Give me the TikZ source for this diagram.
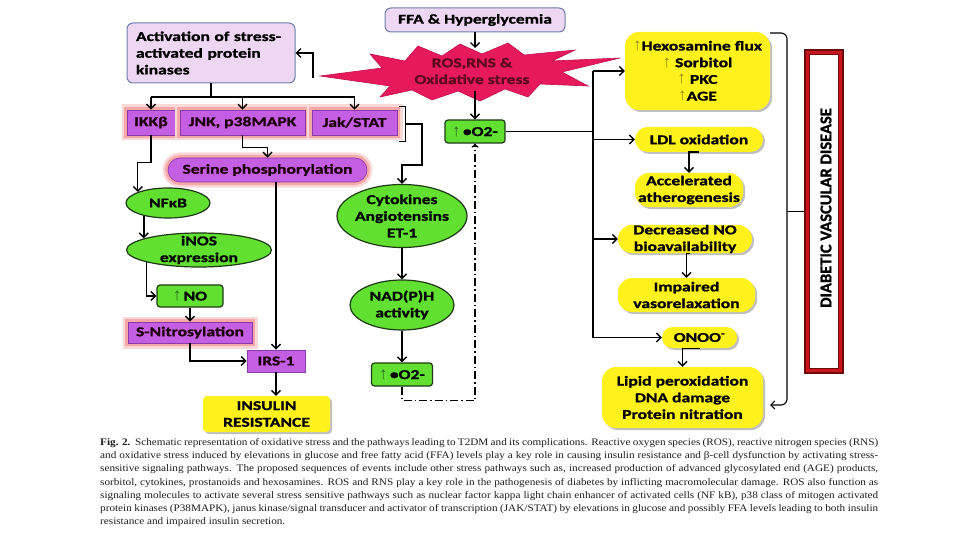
\documentclass[tikz,border=0pt]{standalone}
\usepackage{fontspec}
\setmainfont{Liberation Serif}
\newfontfamily\capfont[FakeStretch=1.12]{Liberation Serif}
\newfontfamily\dfont[FakeStretch=1.3, FakeBold=1.2]{Carlito}
\newfontfamily\dvdfont[FakeBold=1.2]{Carlito}
\newfontfamily\arrfont{Liberation Sans}
\usetikzlibrary{shapes.geometric,arrows.meta,calc,shadows}

\definecolor{lav}{HTML}{EDD7F2}
\definecolor{lavb}{HTML}{6D7DAA}
\definecolor{purp}{HTML}{C45EE2}
\definecolor{purpb}{HTML}{8A3AA8}
\definecolor{glowc}{HTML}{F6A8A8}
\definecolor{grn}{HTML}{62E032}
\definecolor{grnb}{HTML}{1E3A14}
\definecolor{yel}{HTML}{FFF21C}
\definecolor{starc}{HTML}{E6195C}
\definecolor{starb}{HTML}{C0104A}
\definecolor{startxt}{HTML}{5E0A1E}
\definecolor{dred}{HTML}{6E0C0C}
\definecolor{mred}{HTML}{C8161E}
\definecolor{upyc}{HTML}{8E8A10}
\definecolor{upgc}{HTML}{2C6A1C}
\definecolor{captxt}{HTML}{1E1E1E}

\newcommand{\uparY}{{\arrfont\mdseries\fontsize{17}{17}\selectfont\color{upyc}↑}}
\newcommand{\uparG}{{\arrfont\mdseries\fontsize{17}{17}\selectfont\color{upgc}↑}}

\begin{document}
\begin{tikzpicture}[x=1pt,y=-1pt,
  lbl/.style={font={\dfont\bfseries\fontsize{13.5}{16.7}\selectfont}, align=center, inner sep=0pt, text=black},
  lavbox/.style={lbl, rectangle, rounded corners=6pt, fill=lav, draw=lavb, line width=1pt},
  purpbox/.style={lbl, rectangle, fill=purp, draw=purpb, line width=0.6pt, text=black!85!purple},
  glowing/.style={preaction={draw=glowc!45, line width=11pt}, preaction={draw=glowc, line width=6pt}},
  grnbox/.style={lbl, rectangle, rounded corners=3pt, fill=grn, draw=grnb, line width=1.2pt},
  grnell/.style={ellipse, inner sep=0pt, fill=grn, draw=grnb, line width=1.2pt},
  yelbox/.style={lbl, rectangle, rounded corners=12pt, fill=yel,
     drop shadow={shadow xshift=2pt, shadow yshift=-2pt, opacity=0.25, fill=black}},
  conn/.style={line width=1.4pt, draw=black},
  arr/.style={conn, -{Straight Barb[length=4.5pt, width=9pt]}}
]
\useasboundingbox (0,0) rectangle (960,540);
\fill[white] (0,0) rectangle (960,540);

% starburst
\filldraw[fill=starc, draw=starb, line width=0.6pt]
 (320,76) -- (382,68) -- (370,54) -- (405,61) -- (418,46) -- (442,56) -- (460,44)
 -- (482,54) -- (508,43) -- (524,55) -- (575,50) -- (552,61) -- (620,58) -- (562,72)
 -- (588,86) -- (540,84) -- (528,97) -- (505,89) -- (480,101) -- (458,91) -- (432,100)
 -- (412,90) -- (380,97) -- (390,86) -- cycle;
\node[lbl, text=startxt] (ros) at (472,71) {ROS,RNS \&\\Oxidative stress};

% top boxes
\node[lavbox, minimum width=180pt, minimum height=24pt] (ffa) at (475,20) {FFA \& Hyperglycemia};
\node[lavbox, minimum width=168pt, minimum height=60pt, text width=150pt, align=left, inner xsep=9pt]
  (act) at (211,53) {Activation of stress-\\activated protein\\kinases};

% purple row
\node[purpbox, glowing, minimum width=48pt, minimum height=25pt] (ikk) at (151,122.5) {IKKβ};
\node[purpbox, glowing, minimum width=125pt, minimum height=25pt] (jnk) at (242.5,122.5) {JNK, p38MAPK};
\node[purpbox, glowing, minimum width=85pt, minimum height=25pt] (jak) at (354.5,122.5) {Jak/STAT};
\node[purpbox, glowing, rounded corners=12pt, minimum width=199pt, minimum height=24pt] (ser) at (267.5,170) {Serine phosphorylation};
\node[purpbox, glowing, minimum width=124pt, minimum height=21pt] (snit) at (190,332.5) {S-Nitrosylation};
\node[purpbox, minimum width=58pt, minimum height=22pt] (irs) at (276,361) {IRS-1};

% green boxes
\node[grnbox, minimum width=60pt, minimum height=23pt] (o2a) at (475,131.5) {\uparG\,•O2-};
\node[grnbox, minimum width=66pt, minimum height=22pt] (no) at (190,296) {\uparG\,NO};
\node[grnbox, minimum width=61pt, minimum height=23pt] (o2b) at (402,374.5) {\uparG\,•O2-};

% green ellipses
\node[grnell, minimum width=84pt, minimum height=30pt] (nfkb) at (168,203) {};
\node[lbl] (nfkbt) at (nfkb) {NFκB};
\node[grnell, minimum width=145pt, minimum height=34pt] (inos) at (199,250) {};
\node[lbl] (inost) at (inos) {iNOS\\expression};
\node[grnell, minimum width=130pt, minimum height=63pt] (cyt) at (402,216) {};
\node[lbl] (cytt) at (cyt) {Cytokines\\Angiotensins\\ET-1};
\node[grnell, minimum width=104pt, minimum height=50pt] (nad) at (402,305) {};
\node[lbl] (nadt) at (nad) {NAD(P)H\\activity};

% yellow boxes
\node[yelbox, rounded corners=4pt, minimum width=127pt, minimum height=36pt] (ins) at (266.5,414) {INSULIN\\RESISTANCE};
\node[yelbox, rounded corners=14pt, minimum width=145pt, minimum height=78pt] (hex) at (697.5,71)
  {\uparY Hexosamine flux\\\uparY\ Sorbitol\\\uparY\ PKC\\\uparY AGE};
\node[yelbox, rounded corners=12.5pt, minimum width=128pt, minimum height=25pt] (ldl) at (699,139.5) {LDL oxidation};
\node[yelbox, rounded corners=14pt, minimum width=108pt, minimum height=34pt] (acc) at (689,190) {Accelerated\\atherogenesis};
\node[yelbox, rounded corners=14pt, minimum width=134pt, minimum height=28pt] (dec) at (685,239) {Decreased NO\\bioavailability};
\node[yelbox, rounded corners=14pt, minimum width=137pt, minimum height=34pt] (imp) at (686.5,295) {Impaired\\vasorelaxation};
\node[yelbox, rounded corners=10.5pt, minimum width=75pt, minimum height=21pt] (onoo) at (699.5,337.5) {ONOO\textsuperscript{-}};
\node[yelbox, rounded corners=14pt, minimum width=161pt, minimum height=61pt] (lip) at (682.5,397.5)
  {Lipid peroxidation\\DNA damage\\Protein nitration};

% diabetic vascular disease
\node[draw=dred, fill=mred, line width=1.2pt, minimum width=38pt, minimum height=323pt, inner sep=0pt] (dvd) at (824,211.5) {};
\filldraw[fill=white, draw=dred, line width=0.8pt] ($(dvd.north west)+(5,5)$) rectangle ($(dvd.south east)+(-5,-5)$);
\node[rotate=90, inner sep=0pt, font={\dvdfont\bfseries\fontsize{16.5}{16.5}\selectfont}] (dvdt) at (826,208) {DIABETIC VASCULAR DISEASE};

% connectors: top
\coordinate (starTop) at (475,48);
\coordinate (starBot) at (475,91);
\coordinate (starL) at (313,78);
\draw[arr] (ffa.south) -- (starTop);
\draw[arr] (starBot) -- (o2a.north);
\draw[arr] (starL) |- (act.east);

\coordinate (rowbus) at (211,97);
\draw[conn] (act.south) -- (rowbus);
\draw[conn] (ikk.north |- rowbus) -- (jak.north |- rowbus);
\draw[arr] (ikk.north |- rowbus) -- (ikk.north);
\draw[arr] (jnk.north |- rowbus) -- (jnk.north);
\draw[arr] (jak.north |- rowbus) -- (jak.north);

% bracket after Jak/STAT
\draw[line width=1pt] (399,107) -- (405,107) -- (405,142) -- (399,142);
\coordinate (brk) at (405,124);
\draw[arr] (brk) -| ++(17,41) -| (cyt.north);

% left column
\draw[arr] (jnk.south) -- ++(0,12) -| (ser.north);
\draw[arr] (ikk.south) -- ++(0,27) -| (nfkb.160);
\draw[arr] (nfkb.208) -- (nfkb.208 |- inos.168);
\draw[arr] (inos.193) |- (no.west);
\draw[arr] (no.south) -- (snit.north);
\draw[arr] (snit.south) |- (irs.west);
\draw[arr] (irs.north |- ser.south) -- (irs.north);
\draw[arr] (irs.south) -- (irs.south |- ins.north);

% middle column
\draw[arr] (cyt.south) -- (nad.north);
\draw[arr] (nad.south) -- (o2b.north);
\draw[conn, dash pattern=on 8pt off 3pt on 1.5pt off 3pt, -{To[length=4pt,width=7pt]}]
  (o2b.south) -- ++(0,14) -| (o2a.south);

% right spine
\coordinate (sp) at (593,0);
\draw[conn] (o2a.east) -- (o2a.east -| sp);
\draw[arr] (sp |- hex.west) -- (hex.west);
\draw[arr] (sp |- ldl.west) -- (ldl.west);
\draw[arr] (sp |- dec.west) -- (dec.west);
\draw[arr] (sp |- hex.west) -- (sp |- onoo.west) -- (onoo.west);

\draw[arr] (ldl.south) -| (acc.north);
\draw[arr] ([xshift=5pt]dec.south) -| (imp.north);
\draw[arr] (onoo.south) -| (lip.north);

% big brace
\coordinate (br) at (787,0);
\coordinate (bt) at (770,33);
\coordinate (bb) at (787,405);
\coordinate (btip) at (770,405);
\draw[line width=1.1pt, -{Straight Barb[length=4pt, width=8pt]}, rounded corners=6pt] (bt) -| (bb) -- (btip);
\draw[line width=1.1pt] (dvd.west -| br) -- (dvd.west);

% caption
\node[anchor=north west, inner sep=0pt, align=left, text=captxt, font={\capfont\fontsize{10}{13.1}\selectfont}] (cap) at (100,438.5)
{\makebox[778pt][s]{\textbf{Fig. 2.}\ \ Schematic representation of oxidative stress and the pathways leading to T2DM and its complications. Reactive oxygen species (ROS), reactive nitrogen species (RNS)}\\
\makebox[778pt][s]{and oxidative stress induced by elevations in glucose and free fatty acid (FFA) levels play a key role in causing insulin resistance and β-cell dysfunction by activating stress-}\\
\makebox[778pt][s]{sensitive signaling pathways. The proposed sequences of events include other stress pathways such as, increased production of advanced glycosylated end (AGE) products,}\\
\makebox[778pt][s]{sorbitol, cytokines, prostanoids and hexosamines. ROS and RNS play a key role in the pathogenesis of diabetes by inflicting macromolecular damage. ROS also function as}\\
\makebox[778pt][s]{signaling molecules to activate several stress sensitive pathways such as nuclear factor kappa light chain enhancer of activated cells (NF kB), p38 class of mitogen activated}\\
\makebox[778pt][s]{protein kinases (P38MAPK), janus kinase/signal transducer and activator of transcription (JAK/STAT) by elevations in glucose and possibly FFA levels leading to both insulin}\\
resistance and impaired insulin secretion.};
\end{tikzpicture}
\end{document}
